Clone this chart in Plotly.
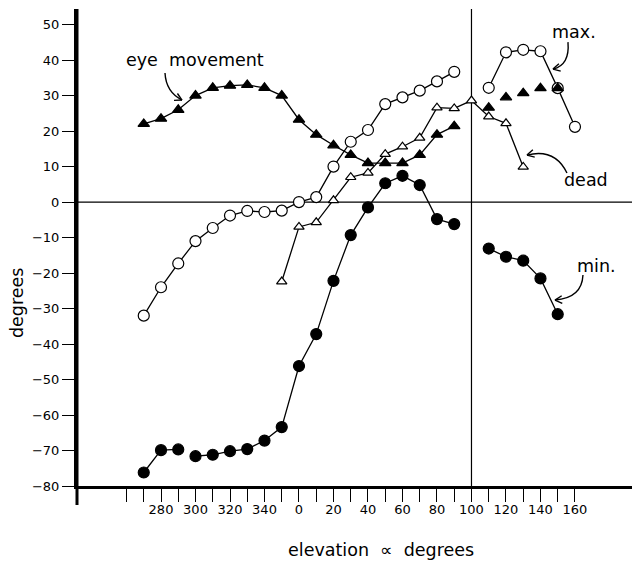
import math
import plotly.graph_objects as go

# ---------------- data (elevation angle in degrees, value in degrees) ----------------
eye_left_angle = [270, 280, 290, 300, 310, 320, 330, 340, 350, 0, 10, 20, 30, 40, 50, 60, 70, 80, 90]
eye_left_value = [22, 23.5, 26, 30, 32.2, 32.8, 33, 32.2, 30, 23.2, 19, 16, 13.3, 11, 11, 11, 13.3, 19, 21.4]
eye_right_angle = [110, 120, 130, 140, 150]
eye_right_value = [26.6, 29.5, 30.7, 32.1, 32.1]

max_left_angle = [270, 280, 290, 300, 310, 320, 330, 340, 350, 0, 10, 20, 30, 40, 50, 60, 70, 80, 90]
max_left_value = [-32, -24, -17.3, -11, -7.3, -3.8, -2.5, -2.8, -2.4, 0, 1.4, 10, 17, 20.3, 27.6, 29.5, 31.4, 34, 36.7]
max_right_angle = [110, 120, 130, 140, 150, 160]
max_right_value = [32.2, 42.2, 42.9, 42.5, 32.1, 21.2]

dead_angle = [350, 0, 10, 20, 30, 40, 50, 60, 70, 80, 90, 100, 110, 120, 130]
dead_value = [-22.4, -7, -5.7, 0.5, 7, 8.2, 13.5, 15.6, 18.1, 26.6, 26.4, 28.6, 24.1, 22.2, 9.9]

min_a_angle = [270, 280, 290]
min_a_value = [-76.2, -69.9, -69.7]
min_b_angle = [300, 310, 320, 330, 340, 350, 0, 10, 20, 30, 40, 50, 60, 70, 80, 90]
min_b_value = [-71.6, -71.2, -70.2, -69.6, -67.2, -63.4, -46.2, -37.2, -22.2, -9.3, -1.5, 5.3, 7.4, 4.8, -4.8, -6.2]
min_right_angle = [110, 120, 130, 140, 150]
min_right_value = [-13.1, -15.4, -16.5, -21.5, -31.6]

tick_angles = [260, 270, 280, 290, 300, 310, 320, 330, 340, 350, 0, 10, 20, 30, 40, 50, 60, 70, 80, 90,
               100, 110, 120, 130, 140, 150, 160]
labelled_angles = [280, 300, 320, 340, 0, 20, 40, 60, 80, 100, 120, 140, 160]
y_ticks = [50, 40, 30, 20, 10, 0, -10, -20, -30, -40, -50, -60, -70, -80]


def pos(a):
    """Unwrap the circular elevation angle onto a continuous axis."""
    return a - 360 if a >= 250 else a


def xs(angles):
    return [pos(a) for a in angles]


FONT = "DejaVu Sans"
fig = go.Figure()

line = dict(color="black", width=1.3)


def add(angles, values, symbol, fill, mode="lines+markers", size=11):
    fig.add_trace(go.Scatter(
        x=xs(angles), y=values, mode=mode, line=line,
        marker=dict(symbol=symbol, size=size, color=fill,
                    line=dict(color="black", width=1.2)),
        showlegend=False, hoverinfo="skip", cliponaxis=False))


add(max_left_angle, max_left_value, "circle", "white")
add(max_right_angle, max_right_value, "circle", "white")
add(dead_angle, dead_value, "triangle-up", "white", size=9)
add(eye_left_angle, eye_left_value, "triangle-up", "black", size=10)
add(eye_right_angle, eye_right_value, "triangle-up", "black", mode="markers", size=10)
add(min_a_angle, min_a_value, "circle", "black")
add(min_b_angle, min_b_value, "circle", "black")
add(min_right_angle, min_right_value, "circle", "black")

# reference lines: zero line and 100 deg vertical
fig.add_shape(type="line", xref="paper", yref="y", x0=0, x1=1, y0=0, y1=0,
              line=dict(color="black", width=1.2), layer="below")
fig.add_shape(type="line", xref="x", yref="paper", x0=100, x1=100, y0=0, y1=1,
              line=dict(color="black", width=1.2), layer="below")
# left axis extension below the x axis
fig.add_shape(type="line", xref="paper", yref="paper", x0=0, x1=0, y0=-0.04, y1=1,
              line=dict(color="black", width=3))


def px2d(px, py):
    return (px - 299) / 1.725, (202 - py) / 3.549


def curved_arrow(p0, c, p1):
    x0, y0 = px2d(*p0)
    xc, yc = px2d(*c)
    x1, y1 = px2d(*p1)
    fig.add_shape(type="path", xref="x", yref="y",
                  path=f"M {x0},{y0} Q {xc},{yc} {x1},{y1}",
                  line=dict(color="black", width=1.4))
    # open V arrowhead
    dx, dy = p1[0] - c[0], p1[1] - c[1]
    n = math.hypot(dx, dy)
    dx, dy = dx / n, dy / n
    for ang in (0.5, -0.5):
        ca, sa = math.cos(ang), math.sin(ang)
        bx = -(dx * ca - dy * sa) * 8
        by = -(dx * sa + dy * ca) * 8
        xa, ya = px2d(p1[0] + bx, p1[1] + by)
        fig.add_shape(type="line", xref="x", yref="y", x0=x1, y0=y1, x1=xa, y1=ya,
                      line=dict(color="black", width=1.4))


curved_arrow((165, 73), (166, 92), (182, 100))
curved_arrow((568, 42), (570, 65), (553, 69))
curved_arrow((567, 173), (555, 148), (527, 155))
curved_arrow((583, 275), (582, 298), (555, 300))


def label(text, px, py, size=17.5):
    x, y = px2d(px, py)
    fig.add_annotation(x=x, y=y, text=text, showarrow=False,
                       xanchor="center", yanchor="middle",
                       font=dict(family=FONT, size=size, color="black"))


label("eye\u00a0 movement", 195, 60)
label("max.", 574, 32)
label("dead", 586, 180)
label("min.", 597, 266)

fig.add_annotation(xref="paper", yref="paper", x=(381 - 77) / 563, y=-(550 - 486) / 477,
                   xanchor="center", yanchor="middle",
                   text="elevation\u00a0 \u221d\u00a0 degrees", showarrow=False,
                   font=dict(family=FONT, size=17.5, color="black"))
fig.add_annotation(xref="paper", yref="paper", x=-(77 - 17) / 563, y=(486 - 303) / 477,
                   xanchor="center", yanchor="middle",
                   text="degrees", textangle=-90, showarrow=False,
                   font=dict(family=FONT, size=17.5, color="black"))

# the page body adds an 8px margin, so the figure is 8px smaller and offset accordingly
fig.update_layout(
    width=632, height=554,
    margin=dict(l=69, r=0, t=1, b=76),
    paper_bgcolor="white", plot_bgcolor="white",
    font=dict(family=FONT, size=13, color="black"),
    xaxis=dict(
        range=[-128.7, 197.7], showgrid=False, zeroline=False,
        showline=True, linecolor="black", linewidth=3,
        ticks="outside", ticklen=13, tickwidth=1.3, tickcolor="black",
        tickvals=xs(tick_angles),
        ticktext=[str(a) if a in labelled_angles else "" for a in tick_angles],
        tickfont=dict(family=FONT, size=13),
        ticklabelstandoff=-4,
    ),
    yaxis=dict(
        range=[-80, 54.4], showgrid=False, zeroline=False,
        showline=True, linecolor="black", linewidth=3,
        ticks="outside", ticklen=12, tickwidth=1.3, tickcolor="black",
        tickvals=y_ticks, ticktext=[("\u2212" + str(-v)) if v < 0 else str(v) for v in y_ticks],
        tickfont=dict(family=FONT, size=13),
    ),
)

fig.write_html("out.html")
